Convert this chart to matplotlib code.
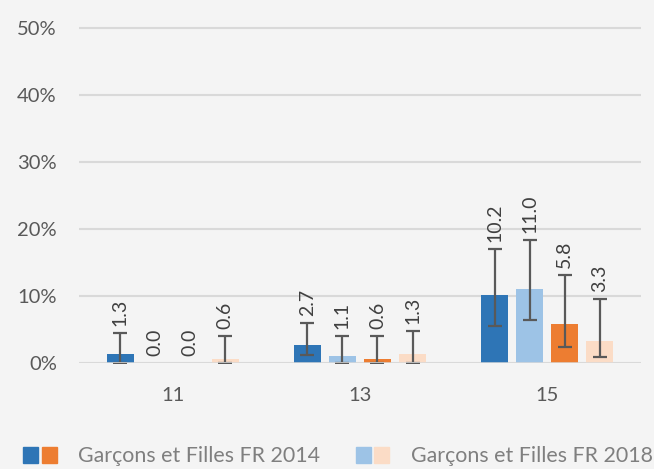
import matplotlib.pyplot as plt
import numpy as np
from matplotlib.patches import Patch
from matplotlib.legend_handler import HandlerTuple

plt.rcParams['font.family'] = ['Lato', 'DejaVu Sans']

categories = ["11", "13", "15"]
# valeurs en %
series_names = ["Garçons FR 2014", "Garçons FR 2018", "Filles FR 2014", "Filles FR 2018"]
values = [
    [1.3, 2.7, 10.2],
    [0.0, 1.1, 11.0],
    [0.0, 0.6, 5.8],
    [0.6, 1.3, 3.3],
]
err_low = [
    [0.0, 1.2, 5.5],
    [None, 0.0, 6.4],
    [None, 0.0, 2.4],
    [0.0, 0.0, 0.9],
]
err_high = [
    [4.5, 6.0, 17.0],
    [None, 4.0, 18.4],
    [None, 4.0, 13.1],
    [4.0, 4.8, 9.6],
]
colors = ["#2e75b6", "#9dc3e6", "#ed7d31", "#fbdcc6"]
legend_labels = ["Garçons et Filles FR 2014", "Garçons et Filles FR 2018"]

fig = plt.figure(figsize=(6.54, 4.69), dpi=100)
fig.patch.set_facecolor("#f4f4f4")
ax = fig.add_axes([0.1208, 0.226, 0.8592, 0.7214])
ax.set_facecolor("#f4f4f4")

x = np.arange(len(categories))
step = 0.187
width = 0.145
offsets = (np.arange(4) - 1.5) * step

for i in range(4):
    pos = x + offsets[i]
    ax.bar(pos, values[i], width, color=colors[i], zorder=2)
    for j in range(len(categories)):
        top = values[i][j]
        if err_high[i][j] is not None:
            ax.errorbar(pos[j], values[i][j],
                        yerr=[[values[i][j] - err_low[i][j]], [err_high[i][j] - values[i][j]]],
                        fmt="none", ecolor="#595959", elinewidth=1.6, capsize=5, capthick=1.6,
                        zorder=3)
            top = err_high[i][j]
        ax.annotate("%.1f" % values[i][j], (pos[j], top), xytext=(0, 5),
                    textcoords="offset points", rotation=90, ha="center", va="bottom",
                    fontsize=14, color="#404040", zorder=4)

ax.set_xlim(-0.5, 2.5)
ax.set_ylim(0, 50.5)
ax.set_yticks([0, 10, 20, 30, 40, 50])
ax.set_yticklabels(["%d%%" % t for t in [0, 10, 20, 30, 40, 50]])
ax.set_xticks(x)
ax.set_xticklabels(categories)
ax.tick_params(axis="y", length=0, pad=16, labelsize=14.5, labelcolor="#595959")
ax.tick_params(axis="x", length=0, pad=17, labelsize=14.5, labelcolor="#595959")
ax.yaxis.grid(True, color="#d9d9d9", linewidth=1.5, zorder=0)
ax.set_axisbelow(True)
ax.axhline(0, color="#d9d9d9", linewidth=1.8, zorder=5)
for s in ax.spines.values():
    s.set_visible(False)

h1 = (Patch(color=colors[0]), Patch(color=colors[2]))
h2 = (Patch(color=colors[1]), Patch(color=colors[3]))
leg = fig.legend([h1, h2], legend_labels, loc="lower center", bbox_to_anchor=(0.517, -0.035),
                 ncol=2, frameon=False, fontsize=15.4, labelcolor="#7f7f7f",
                 handler_map={tuple: HandlerTuple(ndivide=None, pad=0.15)},
                 handlelength=1.55, handleheight=0.8, handletextpad=1.0, columnspacing=1.7)

fig.savefig("out.png", dpi=100, facecolor=fig.get_facecolor())
